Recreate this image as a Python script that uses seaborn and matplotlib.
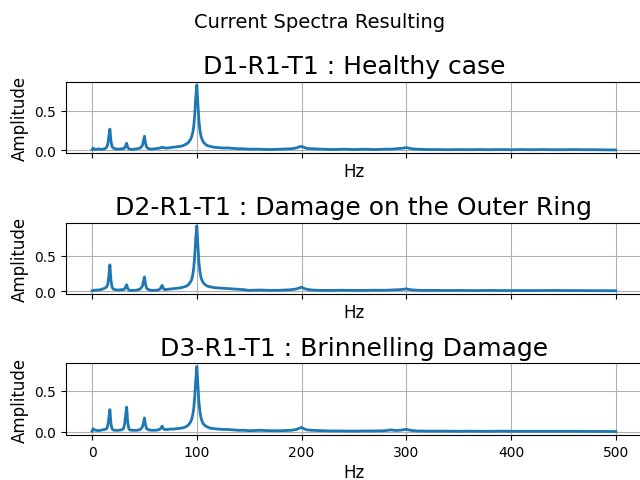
import matplotlib
matplotlib.use("Agg")
import matplotlib.pyplot as plt
import seaborn as sns
import pandas as pd

freq = [0, 1, 2, 4, 6, 8, 10, 12, 14, 15,
        16, 17, 18, 19, 20, 22, 25, 28, 30, 31,
        32, 33, 34, 35, 36, 38, 40, 43, 46, 48,
        49, 50, 51, 52, 54, 57, 60, 63, 65, 66,
        67, 68, 69, 72, 75, 78, 81, 84, 87, 90,
        92, 94, 95, 96, 97, 98, 99, 100, 101, 102,
        103, 104, 105, 106, 108, 110, 113, 116, 120, 125,
        130, 135, 140, 145, 150, 160, 170, 180, 190, 195,
        198, 200, 202, 205, 210, 220, 230, 240, 250, 260,
        270, 280, 285, 290, 295, 298, 300, 302, 305, 310,
        320, 330, 340, 350, 360, 370, 380, 390, 400, 410,
        420, 430, 440, 450, 460, 470, 480, 490, 500]

amp_healthy = [0.01, 0.03, 0.015, 0.01, 0.02, 0.01, 0.015, 0.02, 0.04, 0.08,
               0.18, 0.27, 0.12, 0.05, 0.03, 0.02, 0.015, 0.02, 0.02, 0.03,
               0.06, 0.09, 0.04, 0.02, 0.015, 0.01, 0.015, 0.02, 0.03, 0.06,
               0.12, 0.18, 0.09, 0.04, 0.02, 0.015, 0.02, 0.025, 0.03, 0.035,
               0.04, 0.035, 0.03, 0.03, 0.035, 0.04, 0.045, 0.05, 0.06, 0.08,
               0.10, 0.14, 0.17, 0.22, 0.30, 0.45, 0.68, 0.83, 0.60, 0.38,
               0.25, 0.18, 0.14, 0.11, 0.08, 0.06, 0.05, 0.04, 0.035, 0.03,
               0.03, 0.025, 0.02, 0.02, 0.015, 0.015, 0.01, 0.015, 0.02, 0.03,
               0.045, 0.05, 0.04, 0.025, 0.02, 0.015, 0.01, 0.015, 0.01, 0.015,
               0.01, 0.015, 0.015, 0.02, 0.025, 0.03, 0.035, 0.03, 0.02, 0.015,
               0.01, 0.01, 0.008, 0.01, 0.008, 0.01, 0.008, 0.01, 0.008, 0.01,
               0.008, 0.01, 0.008, 0.008, 0.01, 0.008, 0.008, 0.006, 0.005]

amp_outer = [0.005, 0.01, 0.01, 0.015, 0.015, 0.02, 0.03, 0.04, 0.06, 0.10,
             0.22, 0.37, 0.15, 0.06, 0.03, 0.02, 0.015, 0.02, 0.02, 0.03,
             0.06, 0.09, 0.04, 0.015, 0.01, 0.01, 0.01, 0.015, 0.03, 0.07,
             0.14, 0.20, 0.10, 0.04, 0.02, 0.01, 0.01, 0.015, 0.03, 0.06,
             0.08, 0.04, 0.02, 0.025, 0.03, 0.035, 0.04, 0.045, 0.055, 0.07,
             0.09, 0.13, 0.16, 0.22, 0.32, 0.50, 0.75, 0.92, 0.65, 0.40,
             0.27, 0.19, 0.15, 0.12, 0.09, 0.07, 0.06, 0.05, 0.045, 0.04,
             0.035, 0.03, 0.025, 0.02, 0.01, 0.015, 0.01, 0.012, 0.02, 0.03,
             0.045, 0.055, 0.04, 0.025, 0.015, 0.01, 0.01, 0.012, 0.01, 0.01,
             0.012, 0.012, 0.015, 0.018, 0.022, 0.028, 0.032, 0.025, 0.018, 0.012,
             0.01, 0.01, 0.008, 0.01, 0.008, 0.008, 0.01, 0.008, 0.008, 0.008,
             0.008, 0.008, 0.01, 0.008, 0.008, 0.007, 0.006, 0.006, 0.005]

amp_brinell = [0.01, 0.04, 0.025, 0.02, 0.015, 0.02, 0.025, 0.03, 0.04, 0.08,
               0.17, 0.27, 0.10, 0.04, 0.025, 0.02, 0.02, 0.025, 0.04, 0.09,
               0.20, 0.30, 0.12, 0.04, 0.025, 0.02, 0.02, 0.02, 0.03, 0.06,
               0.11, 0.17, 0.09, 0.04, 0.025, 0.02, 0.02, 0.025, 0.035, 0.055,
               0.07, 0.04, 0.03, 0.03, 0.035, 0.035, 0.04, 0.045, 0.05, 0.065,
               0.085, 0.12, 0.15, 0.20, 0.28, 0.42, 0.63, 0.79, 0.57, 0.36,
               0.24, 0.17, 0.13, 0.10, 0.075, 0.06, 0.045, 0.04, 0.035, 0.03,
               0.03, 0.025, 0.02, 0.02, 0.015, 0.02, 0.015, 0.015, 0.02, 0.03,
               0.045, 0.055, 0.04, 0.025, 0.02, 0.015, 0.012, 0.012, 0.01, 0.012,
               0.012, 0.015, 0.025, 0.018, 0.022, 0.028, 0.032, 0.025, 0.018, 0.012,
               0.01, 0.01, 0.01, 0.008, 0.01, 0.008, 0.008, 0.01, 0.008, 0.008,
               0.008, 0.008, 0.008, 0.008, 0.008, 0.007, 0.006, 0.006, 0.005]

titles = ["D1-R1-T1 : Healthy case",
          "D2-R1-T1 : Damage on the Outer Ring",
          "D3-R1-T1 : Brinnelling Damage"]
series = [amp_healthy, amp_outer, amp_brinell]

fig, axes = plt.subplots(3, 1, figsize=(6.4, 4.81), dpi=100, sharex=True)
fig.subplots_adjust(left=0.103, right=1.003, top=0.828, bottom=0.094, hspace=0.97)
for ax, title, amp in zip(axes, titles, series):
    df = pd.DataFrame({"Hz": freq, "Amplitude": amp})
    sns.lineplot(data=df, x="Hz", y="Amplitude", ax=ax, color="#1f77b4", linewidth=2)
    ax.set_title(title, fontsize=18)
    ax.set_xlabel("Hz", fontsize=12, labelpad=3)
    ax.xaxis.label.set_visible(True)
    ax.set_ylabel("Amplitude", fontsize=12)
    ax.grid(True)
    ax.set_yticks([0.0, 0.5])
fig.suptitle("Current Spectra Resulting", fontsize=14, y=0.973)
fig.savefig("out.png")
